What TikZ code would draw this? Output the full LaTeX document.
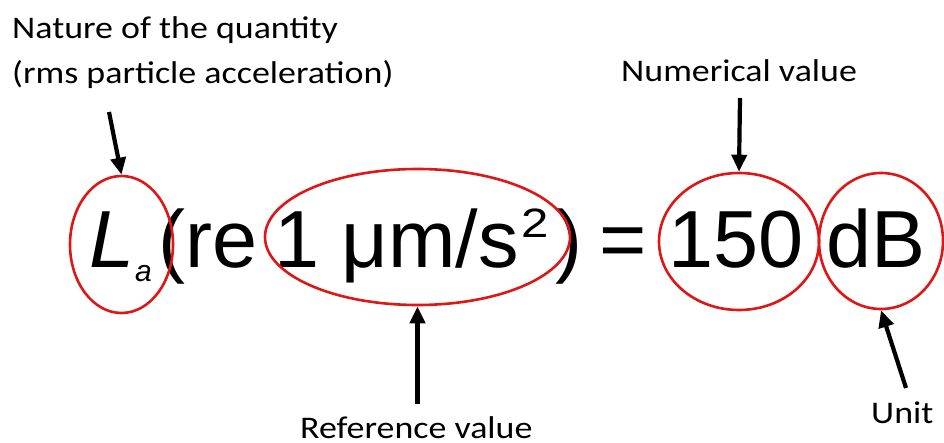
\documentclass[tikz,border=0pt]{standalone}
\usepackage{fontspec}
\setmainfont{Liberation Sans}
\newfontfamily\calfont[FakeStretch=1.14]{Carlito}
\newfontfamily\supfont[FakeStretch=1.2]{Liberation Sans}
\usetikzlibrary{shapes.geometric,arrows.meta}
\definecolor{ellred}{RGB}{222,22,22}
\tikzset{
  big/.style={inner sep=0pt, anchor=base west, font=\fontsize{81bp}{90bp}\selectfont},
  lbl/.style={inner sep=0pt, anchor=base west, font=\calfont\fontsize{31.5bp}{37bp}\selectfont},
  ring/.style={draw=ellred, line width=2.6bp, ellipse, inner sep=0pt},
  arr/.style={draw=black, line width=4.2bp, -{Triangle[width=15bp,length=17bp]}}
}
\begin{document}
\begin{tikzpicture}[x=1bp,y=-1bp]
\useasboundingbox (0,0) rectangle (944,443);
% labels
\node[lbl] (nat1) at (12,39) {Nature of the quantity};
\node[lbl] (nat2) at (12,84) {(rms particle acceleration)};
\node[lbl] (num) at (621,82) {Numerical value};
\node[lbl] (ref) at (300,438) {Reference value};
\node[lbl] (unit) at (871,423) {Unit};
% equation
\node[big, font=\fontsize{81bp}{90bp}\selectfont\itshape] (L) at (89,268) {L};
\node[inner sep=0pt, anchor=base west, font=\fontsize{30bp}{34bp}\selectfont\itshape] (sa) at (135,282) {a};
\node[big] (po) at (158,268) {(re};
\node[big] (one) at (274,268) {1 μm/s};
\node[inner sep=0pt, anchor=base west, font=\supfont\fontsize{41bp}{46bp}\selectfont] (sq) at (521,238) {2};
\node[big] (pc) at (555,268) {)};
\node[big] (eq) at (599,268) {=};
\node[big] (v) at (668,268) {150};
\node[big] (db) at (826,268) {dB};
% ellipses
\node[ring, minimum width=103bp, minimum height=137bp] (eL) at (121.5,244.5) {};
\node[ring, minimum width=305bp, minimum height=136bp] (eRef) at (417.5,237) {};
\node[ring, minimum width=160bp, minimum height=137bp] (eNum) at (739,241.5) {};
\node[ring, minimum width=124bp, minimum height=136bp] (eU) at (881,241) {};
% arrow tails
\coordinate (tL) at (109,112);
\coordinate (tN) at (740,98);
\coordinate (tR) at (417.5,404);
\coordinate (tU) at (906,388);
\draw[arr] (tL) -- (eL.north);
\draw[arr] (tN) -- (eNum.north);
\draw[arr] (tR) -- (eRef.south);
\draw[arr] (tU) -- (eU.south);
\end{tikzpicture}
\end{document}
